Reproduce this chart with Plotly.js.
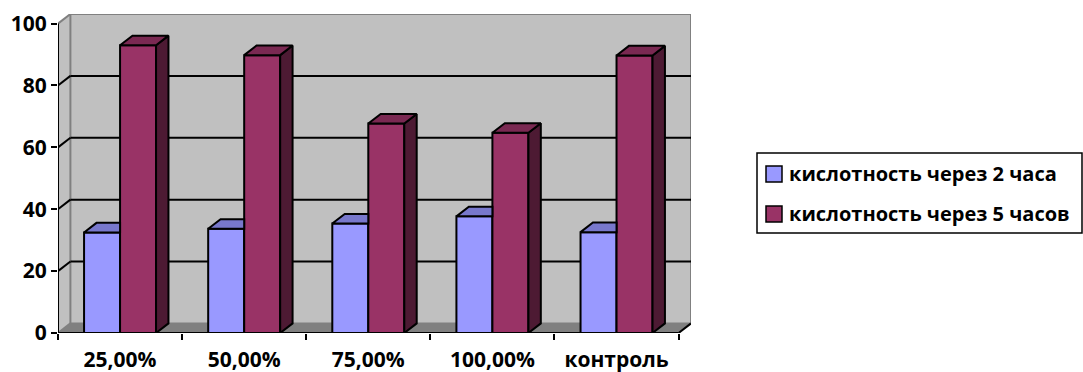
<!DOCTYPE html>
<html>
<head>
<meta charset="utf-8">
<script src="https://cdn.plot.ly/plotly-3.0.1.min.js"></script>
<style>
  html, body { margin: 0; padding: 0; background: #ffffff; }
  #chart { width: 1083px; height: 372px; }
</style>
</head>
<body>
<div id="chart"></div>
<script>
// ---- data ----
const categories = ['25,00%', '50,00%', '75,00%', '100,00%', 'контроль'];
const seriesNames = ['кислотность через 2 часа', 'кислотность через 5 часов'];
const after2h = [32.5, 33.7, 35.4, 37.7, 32.6];
const after5h = [93.0, 89.8, 67.7, 64.7, 89.7];
const yTicks = [0, 20, 40, 60, 80, 100];

// ---- look ----
const FRONT = ['#9999FF', '#993366'];
const TOP = ['#7878CC', '#7A2952'];
const SIDE = ['#5C5C99', '#4D1A33'];
const WALL = '#C0C0C0';
const FLOOR = '#808080';
const EDGE = '#808080';
const FAMILY = '"Open Sans", "Noto Sans", sans-serif';
const FONT = { family: FAMILY, size: 20, color: '#000000', weight: 700 };
const XFONT = { family: FAMILY, size: 21, color: '#000000', weight: 700 };
const YFONT = { family: FAMILY, size: 21, color: '#000000', weight: 700 };

const BAR_W = 0.29;          // width of one bar, category units
const DX = 0.1, DY = 3.1;    // depth of the 3-D box, data units
const YMAX = 100;
const X0 = -0.5, X1 = categories.length - 0.5;

// plot-area geometry in pixels (used for the hand-built legend)
const W = 1083, H = 372;
const M = { l: 58, r: 392, t: 14, b: 39 };
const PW = W - M.l - M.r, PH = H - M.t - M.b;
const px = x => (x - M.l) / PW;
const py = y => (H - M.b - y) / PH;

const xs = categories.map((_, i) => i);

// ---- front faces ----
const fronts = [after2h, after5h].map((vals, s) => ({
  type: 'bar',
  name: seriesNames[s],
  x: xs,
  y: vals,
  width: BAR_W,
  offset: s === 0 ? -BAR_W : 0,
  marker: { color: FRONT[s], line: { color: '#000000', width: 2 } },
  showlegend: false,
  hoverinfo: 'skip'
}));

// ---- top and side faces, one polygon per bar, separated by nulls ----
function polys(list) {
  const x = [], y = [];
  list.forEach(p => {
    p.forEach(([a, b]) => { x.push(a); y.push(b); });
    x.push(p[0][0]); y.push(p[0][1]);
    x.push(null); y.push(null);
  });
  return { x, y };
}
function faceTrace(list, color) {
  const p = polys(list);
  return {
    type: 'scatter', mode: 'lines', x: p.x, y: p.y,
    fill: 'toself', fillcolor: color,
    line: { color: '#000000', width: 2 },
    showlegend: false, hoverinfo: 'skip'
  };
}

// blue tops: the part right of the red bar's left edge is hidden behind it
const blueTops = xs.map(c => {
  const v = after2h[c];
  return [[c - BAR_W, v], [c, v], [c, v + DY], [c - BAR_W + DX, v + DY]];
});
const redSides = xs.map(c => {
  const v = after5h[c];
  return [[c + BAR_W, 0], [c + BAR_W + DX, DY], [c + BAR_W + DX, v + DY], [c + BAR_W, v]];
});
const redTops = xs.map(c => {
  const v = after5h[c];
  return [[c, v], [c + BAR_W, v], [c + BAR_W + DX, v + DY], [c + DX, v + DY]];
});

// invisible carrier so the category-label axis is drawn
const labelCarrier = {
  type: 'scatter', mode: 'markers', xaxis: 'x2', yaxis: 'y',
  x: xs, y: xs.map(() => 0), marker: { opacity: 0, size: 1 },
  showlegend: false, hoverinfo: 'skip'
};

const traces = [
  fronts[0], fronts[1],
  faceTrace(blueTops, TOP[0]),
  faceTrace(redSides, SIDE[1]),
  faceTrace(redTops, TOP[1]),
  labelCarrier
];

// ---- walls, floor, gridlines ----
const shapes = [];
const path = pts => 'M' + pts.map(p => p.join(',')).join('L') + 'Z';
shapes.push({ type: 'path', layer: 'below', xref: 'x', yref: 'y',
  path: path([[X0, 0], [X0 + DX, DY], [X0 + DX, YMAX + DY], [X0, YMAX]]),
  fillcolor: WALL, line: { width: 0 } });
shapes.push({ type: 'rect', layer: 'below', xref: 'x', yref: 'y',
  x0: X0 + DX, x1: X1 + DX, y0: DY, y1: YMAX + DY,
  fillcolor: WALL, line: { color: EDGE, width: 2 } });
shapes.push({ type: 'path', layer: 'below', xref: 'x', yref: 'y',
  path: path([[X0, 0], [X1, 0], [X1 + DX, DY], [X0 + DX, DY]]),
  fillcolor: FLOOR, line: { width: 0 } });
yTicks.forEach(v => {
  const edge = (v === 0 || v === YMAX);
  const col = edge ? EDGE : '#000000';
  shapes.push({ type: 'line', layer: 'below', xref: 'x', yref: 'y',
    x0: X0, y0: v, x1: X0 + DX, y1: v + DY, line: { color: col, width: 2 } });
  if (!edge) {
    shapes.push({ type: 'line', layer: 'below', xref: 'x', yref: 'y',
      x0: X0 + DX, y0: v + DY, x1: X1 + DX, y1: v + DY, line: { color: '#000000', width: 2 } });
  }
});
// front axis lines
shapes.push({ type: 'line', layer: 'below', xref: 'x', yref: 'y',
  x0: X0, y0: 0, x1: X0, y1: YMAX, line: { color: '#000000', width: 2 } });
shapes.push({ type: 'line', layer: 'below', xref: 'x', yref: 'y',
  x0: X0, y0: 0, x1: X1, y1: 0, line: { color: '#000000', width: 2 } });
shapes.push({ type: 'line', layer: 'below', xref: 'x', yref: 'y',
  x0: X1, y0: 0, x1: X1 + DX, y1: DY, line: { color: '#000000', width: 2 } });

// ---- legend box ----
const annotations = [];
shapes.push({ type: 'rect', xref: 'paper', yref: 'paper',
  x0: px(757), x1: px(1082), y0: py(153), y1: py(233),
  fillcolor: '#ffffff', line: { color: '#000000', width: 1.5 } });
seriesNames.forEach((name, s) => {
  const cy = 174 + s * 40;
  shapes.push({ type: 'rect', xref: 'paper', yref: 'paper',
    x0: px(766), x1: px(782), y0: py(cy - 8), y1: py(cy + 8),
    fillcolor: FRONT[s], line: { color: '#000000', width: 1.5 } });
  annotations.push({ xref: 'paper', yref: 'paper', x: px(787), y: py(cy),
    xanchor: 'left', yanchor: 'middle', showarrow: false, text: name, font: FONT });
});

const boundaries = xs.map(i => i - 0.5).concat([X1]);

const layout = {
  width: W, height: H,
  margin: M,
  paper_bgcolor: '#ffffff', plot_bgcolor: 'rgba(0,0,0,0)',
  showlegend: false,
  barmode: 'overlay',
  font: FONT,
  xaxis: {
    range: [X0, X1 + DX], fixedrange: true,
    tickmode: 'array', tickvals: boundaries, ticktext: boundaries.map(() => ''),
    ticks: 'outside', ticklen: 6, tickwidth: 2, tickcolor: '#000000',
    showgrid: false, zeroline: false, showline: false
  },
  xaxis2: {
    overlaying: 'x', anchor: 'y', side: 'bottom',
    range: [X0, X1 + DX], fixedrange: true,
    tickmode: 'array', tickvals: xs, ticktext: categories,
    ticks: 'outside', ticklen: 8, tickcolor: 'rgba(0,0,0,0)',
    tickfont: XFONT,
    showgrid: false, zeroline: false, showline: false
  },
  yaxis: {
    range: [0, YMAX + DY], fixedrange: true,
    tickmode: 'array', tickvals: yTicks,
    ticks: 'outside', ticklen: 6, tickwidth: 2, tickcolor: '#000000',
    tickfont: YFONT,
    showgrid: false, zeroline: false, showline: false
  },
  shapes: shapes,
  annotations: annotations
};

Plotly.newPlot('chart', traces, layout, { staticPlot: true, displayModeBar: false });
</script>
</body>
</html>
